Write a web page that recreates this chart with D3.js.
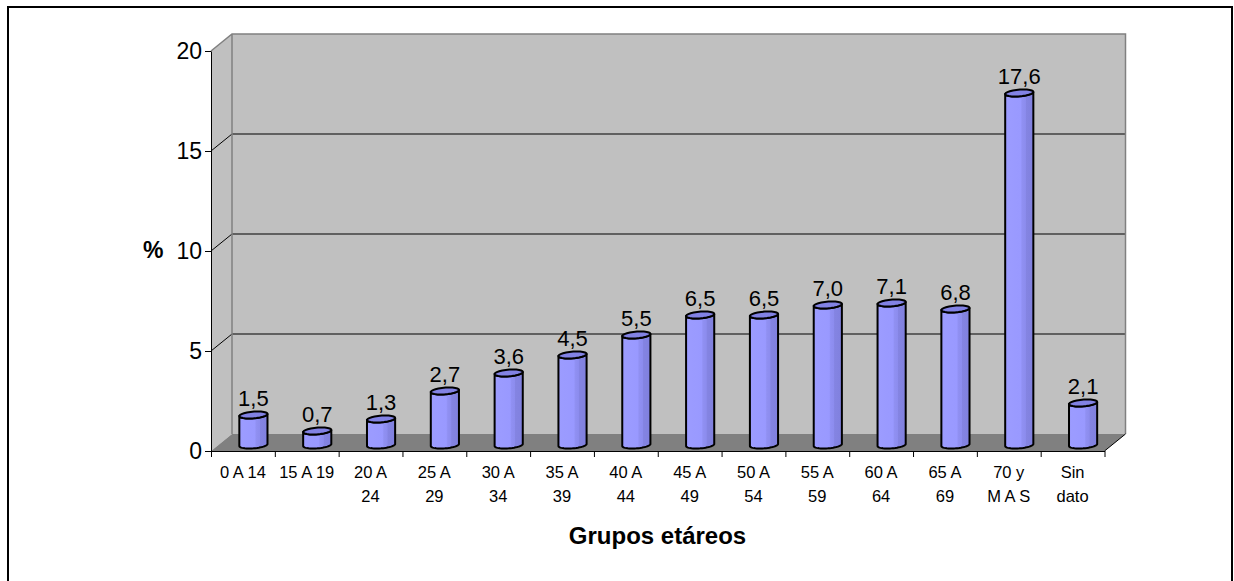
<!DOCTYPE html>
<html>
<head>
<meta charset="utf-8">
<script src="https://cdn.jsdelivr.net/npm/d3@7"></script>
<style>
  body { margin: 0; background: #fff; }
  svg { display: block; font-family: "Liberation Sans", Arial, sans-serif; }
</style>
</head>
<body>
<div id="chart"></div>
<script>
// Data
const groupLabels = ["0 A 14", "15 A 19", "20 A\n24", "25 A\n29", "30 A\n34", "35 A\n39", "40 A\n44",
    "45 A\n49", "50 A\n54", "55 A\n59", "60 A\n64", "65 A\n69", "70 y\nM A S", "Sin\ndato"]
const percentages = [1.5, 0.7, 1.3, 2.7, 3.6, 4.5, 5.5, 6.5, 6.5, 7.0, 7.1, 6.8, 17.6, 2.1]
const yTicks = [0, 5, 10, 15, 20]
const yTitle = "%"
const xTitle = "Grupos etáreos"

function drawChart() {
    const dimensions = {
        width: 1234,
        height: 581,
        left: 211,
        right: 1104.5,
        top: 51,
        bottom: 451,
        depthX: 21,
        depthY: -17
    }

    const wrapper = d3.select("#chart").append("svg")
        .attr("width", dimensions.width)
        .attr("height", dimensions.height)

    // outer frame (bottom edge falls outside the picture)
    wrapper.append("rect")
        .attr("x", 8)
        .attr("y", 7)
        .attr("width", 1224)
        .attr("height", 620)
        .attr("fill", "none")
        .attr("stroke", "#000")
        .attr("stroke-width", 2)

    // Scales
    const yScale = d3.scaleLinear()
        .domain([0, 20])
        .range([dimensions.bottom, dimensions.top])

    const xScale = d3.scaleBand()
        .domain(d3.range(percentages.length))
        .range([dimensions.left, dimensions.right])

    const edgeScale = d3.scaleLinear()
        .domain([0, percentages.length])
        .range([dimensions.left, dimensions.right])

    const dx = dimensions.depthX
    const dy = dimensions.depthY
    const x0 = dimensions.left, x1 = dimensions.right
    const yTop = yScale(20), yBase = yScale(0)

    // Walls
    const walls = wrapper.append("g")
    // side wall
    walls.append("path")
        .attr("d", `M${x0},${yTop} L${x0 + dx},${yTop + dy} L${x0 + dx},${yBase + dy} L${x0},${yBase} Z`)
        .attr("fill", "#c0c0c0")
    // back wall
    walls.append("rect")
        .attr("x", x0 + dx)
        .attr("y", yTop + dy)
        .attr("width", x1 - x0)
        .attr("height", yBase - yTop)
        .attr("fill", "#c0c0c0")
    // floor
    walls.append("path")
        .attr("d", `M${x0},${yBase} L${x0 + dx},${yBase + dy} L${x1 + dx},${yBase + dy} L${x1},${yBase} Z`)
        .attr("fill", "#808080")

    // gridlines
    yTicks.filter(t => t > 0 && t < 20).forEach(t => {
        walls.append("path")
            .attr("d", `M${x0},${yScale(t)} L${x0 + dx},${yScale(t) + dy} L${x1 + dx},${yScale(t) + dy}`)
            .attr("fill", "none")
            .attr("stroke", "#000")
            .attr("stroke-width", 1)
    })

    // wall outline
    walls.append("path")
        .attr("d", `M${x0},${yTop} L${x0 + dx},${yTop + dy} L${x1 + dx},${yTop + dy} L${x1 + dx},${yBase + dy}
            M${x0 + dx},${yTop + dy} L${x0 + dx},${yBase + dy}`)
        .attr("fill", "none")
        .attr("stroke", "#808080")
        .attr("stroke-width", 1.5)
    walls.append("line")
        .attr("x1", x1).attr("y1", yBase)
        .attr("x2", x1 + dx).attr("y2", yBase + dy)
        .attr("stroke", "#000")

    // Y axis
    const yAxisGenerator = d3.axisLeft(yScale)
        .tickValues(yTicks)
        .tickSize(6)
        .tickSizeOuter(0)
        .tickPadding(3)
    const yAxis = wrapper.append("g")
        .attr("transform", `translate(${x0},0)`)
        .call(yAxisGenerator)
    yAxis.selectAll("text")
        .attr("font-size", 23)
        .attr("font-family", "Liberation Sans, Arial, sans-serif")
        .attr("fill", "#000")

    // X axis (ticks at group edges)
    const xAxisGenerator = d3.axisBottom(edgeScale)
        .tickValues(d3.range(percentages.length + 1))
        .tickFormat("")
        .tickSize(6)
        .tickSizeOuter(0)
    wrapper.append("g")
        .attr("transform", `translate(0,${yBase})`)
        .call(xAxisGenerator)

    // group labels
    const xLabels = wrapper.append("g")
        .selectAll("text")
        .data(groupLabels)
        .join("text")
        .attr("x", (d, i) => xScale(i) + xScale.bandwidth() / 2)
        .attr("y", 478)
        .attr("text-anchor", "middle")
        .attr("font-size", 16.5)
        .attr("fill", "#000")
    xLabels.selectAll("tspan")
        .data(d => d.split("\n"))
        .join("tspan")
        .attr("x", function () { return d3.select(this.parentNode).attr("x") })
        .attr("dy", (d, i) => i === 0 ? 0 : 24)
        .text(d => d)

    // Bars (cylinders)
    const defs = wrapper.append("defs")
    const grad = defs.append("linearGradient")
        .attr("id", "cyl")
        .attr("x1", 0).attr("x2", 1).attr("y1", 0).attr("y2", 0)
    ;[[0, "#9c9cff"], [0.55, "#9999ff"], [0.6, "#9090f2"], [0.72, "#8c8cee"], [0.74, "#8484e2"], [1, "#8080de"]]
        .forEach(([o, c]) => grad.append("stop").attr("offset", o).attr("stop-color", c))

    const barWidth = xScale.bandwidth() * 0.42
    const rx = barWidth / 2
    const ex = 4.3, ey = -3.5 // half of the top ellipse depth
    const t0 = Math.atan2(ex, rx)
    const ellipsePoint = (cx, cy, t) => [cx + rx * Math.cos(t) + ex * Math.sin(t), cy + ey * Math.sin(t)]
    const arc = (cx, cy, from, to) => d3.range(25).map(k => ellipsePoint(cx, cy, from + (to - from) * k / 24))
    const lineGen = d3.line()

    const bars = wrapper.append("g")
        .selectAll("g")
        .data(percentages)
        .join("g")

    bars.each(function (v, i) {
        const g = d3.select(this)
        const cx = xScale(i) + xScale.bandwidth() / 2 + dx / 2
        const topY = yScale(v) + dy / 2 + 2.5
        const botY = yScale(0) + dy / 2 + 2.5
        // body: front half of the bottom, then front half of the top back again
        const body = [
            ...arc(cx, botY, t0 + Math.PI, t0 + 2 * Math.PI),
            ...arc(cx, topY, t0 + 2 * Math.PI, t0 + Math.PI)
        ]
        g.append("path")
            .attr("d", lineGen(body) + "Z")
            .attr("fill", "url(#cyl)")
            .attr("stroke", "#000")
            .attr("stroke-width", 2)
            .attr("stroke-linejoin", "round")
        g.append("path")
            .attr("d", lineGen(arc(cx, topY, 0, 2 * Math.PI)) + "Z")
            .attr("fill", "#8282e4")
            .attr("stroke", "#000")
            .attr("stroke-width", 2)
        g.append("text")
            .attr("x", cx)
            .attr("y", topY - 9.5)
            .attr("text-anchor", "middle")
            .attr("font-size", 22)
            .attr("fill", "#000")
            .text(d3.format(".1f")(v).replace(".", ","))
    })

    // Titles
    wrapper.append("text")
        .attr("x", 143)
        .attr("y", 258)
        .attr("font-size", 23)
        .attr("font-weight", "bold")
        .text(yTitle)

    wrapper.append("text")
        .attr("x", 657.5)
        .attr("y", 544)
        .attr("text-anchor", "middle")
        .attr("font-size", 24)
        .attr("font-weight", "bold")
        .text(xTitle)
}

drawChart()
</script>
</body>
</html>
